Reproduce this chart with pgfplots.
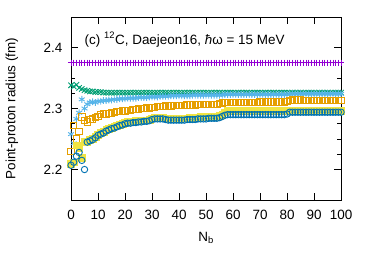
\documentclass[border=0pt]{standalone}
\usepackage{fontspec}
\setmainfont{Liberation Sans}
\usepackage{pgfplots}
\usepackage{pgfplotstable}
\pgfplotsset{compat=1.18}
\definecolor{gpurple}{HTML}{9400D3}
\definecolor{ggreen}{HTML}{009E73}
\definecolor{gsky}{HTML}{56B4E9}
\definecolor{gorange}{HTML}{E69F00}
\definecolor{gyellow}{HTML}{F0E442}
\definecolor{gblue}{HTML}{0072B2}
\pgfplotstableread{
N a b c d e f
0 2.375 2.338 2.258 2.230 2.210 2.207
1 2.375 2.336 2.243 2.272 2.212 2.212
2 2.375 2.339 2.283 2.250 2.240 2.222
3 2.375 2.334 2.293 2.262 2.236 2.228
4 2.375 2.332 2.315 2.286 2.220 2.215
5 2.375 2.330 2.300 2.280 2.245 2.200
6 2.375 2.329 2.307 2.278 2.246 2.245
7 2.375 2.328 2.310 2.282 2.249 2.247
8 2.375 2.328 2.311 2.283 2.250 2.249
9 2.375 2.327 2.310 2.285 2.254 2.252
10 2.375 2.327 2.312 2.287 2.257 2.256
11 2.375 2.327 2.312 2.290 2.260 2.258
12 2.375 2.326 2.313 2.291 2.262 2.260
13 2.375 2.326 2.313 2.291 2.265 2.263
14 2.375 2.326 2.314 2.292 2.267 2.265
15 2.375 2.326 2.314 2.293 2.269 2.267
16 2.375 2.326 2.315 2.294 2.271 2.268
17 2.375 2.326 2.315 2.295 2.272 2.270
18 2.375 2.326 2.316 2.295 2.274 2.272
19 2.375 2.326 2.316 2.296 2.275 2.273
20 2.375 2.326 2.316 2.296 2.277 2.275
21 2.375 2.326 2.317 2.297 2.278 2.276
22 2.375 2.326 2.317 2.297 2.279 2.276
23 2.375 2.326 2.317 2.298 2.279 2.277
24 2.375 2.326 2.317 2.298 2.280 2.277
25 2.375 2.326 2.318 2.299 2.280 2.278
26 2.375 2.326 2.318 2.300 2.281 2.278
27 2.375 2.326 2.318 2.300 2.281 2.279
28 2.375 2.326 2.318 2.301 2.281 2.279
29 2.375 2.326 2.319 2.301 2.282 2.280
30 2.375 2.326 2.319 2.302 2.284 2.282
31 2.375 2.326 2.319 2.302 2.285 2.283
32 2.375 2.326 2.319 2.303 2.285 2.283
33 2.375 2.326 2.320 2.303 2.285 2.283
34 2.375 2.326 2.320 2.303 2.285 2.283
35 2.375 2.326 2.320 2.304 2.284 2.282
36 2.375 2.326 2.320 2.304 2.283 2.281
37 2.375 2.326 2.321 2.304 2.283 2.281
38 2.375 2.326 2.321 2.305 2.283 2.281
39 2.375 2.326 2.321 2.305 2.283 2.281
40 2.375 2.326 2.321 2.305 2.284 2.281
41 2.375 2.326 2.321 2.305 2.284 2.281
42 2.375 2.326 2.321 2.305 2.284 2.281
43 2.375 2.326 2.321 2.306 2.284 2.282
44 2.375 2.326 2.321 2.306 2.285 2.282
45 2.375 2.326 2.322 2.306 2.285 2.282
46 2.375 2.326 2.322 2.306 2.285 2.282
47 2.375 2.326 2.322 2.307 2.285 2.283
48 2.375 2.326 2.322 2.307 2.286 2.283
49 2.375 2.326 2.322 2.307 2.286 2.283
50 2.375 2.326 2.322 2.307 2.286 2.283
51 2.375 2.326 2.322 2.307 2.287 2.284
52 2.375 2.326 2.322 2.307 2.287 2.284
53 2.375 2.326 2.322 2.307 2.287 2.284
54 2.375 2.326 2.322 2.307 2.287 2.284
55 2.375 2.326 2.322 2.308 2.288 2.285
56 2.375 2.326 2.322 2.309 2.290 2.287
57 2.375 2.326 2.323 2.310 2.294 2.289
58 2.375 2.326 2.323 2.310 2.296 2.290
59 2.375 2.326 2.323 2.310 2.296 2.290
60 2.375 2.326 2.323 2.310 2.296 2.290
61 2.375 2.326 2.323 2.310 2.296 2.290
62 2.375 2.326 2.323 2.310 2.296 2.290
63 2.375 2.326 2.323 2.310 2.296 2.290
64 2.375 2.326 2.323 2.310 2.296 2.290
65 2.375 2.326 2.323 2.310 2.296 2.290
66 2.375 2.326 2.323 2.310 2.296 2.290
67 2.375 2.326 2.323 2.310 2.296 2.290
68 2.375 2.326 2.323 2.310 2.296 2.290
69 2.375 2.326 2.323 2.310 2.296 2.290
70 2.375 2.326 2.323 2.311 2.296 2.290
71 2.375 2.326 2.323 2.311 2.296 2.290
72 2.375 2.326 2.323 2.311 2.296 2.290
73 2.375 2.326 2.323 2.311 2.296 2.290
74 2.375 2.326 2.323 2.311 2.296 2.290
75 2.375 2.326 2.323 2.311 2.296 2.290
76 2.375 2.326 2.323 2.311 2.296 2.290
77 2.375 2.326 2.323 2.311 2.296 2.290
78 2.375 2.326 2.323 2.311 2.296 2.290
79 2.375 2.326 2.323 2.311 2.296 2.290
80 2.375 2.326 2.323 2.312 2.296 2.291
81 2.375 2.326 2.324 2.313 2.297 2.294
82 2.375 2.326 2.324 2.314 2.297 2.294
83 2.375 2.326 2.324 2.314 2.297 2.294
84 2.375 2.326 2.324 2.314 2.297 2.294
85 2.375 2.326 2.324 2.314 2.297 2.294
86 2.375 2.326 2.324 2.313 2.297 2.294
87 2.375 2.326 2.324 2.313 2.297 2.294
88 2.375 2.326 2.324 2.313 2.297 2.294
89 2.375 2.326 2.324 2.313 2.297 2.294
90 2.375 2.326 2.324 2.313 2.297 2.294
91 2.375 2.326 2.324 2.313 2.297 2.294
92 2.375 2.326 2.324 2.313 2.297 2.294
93 2.375 2.326 2.324 2.313 2.297 2.294
94 2.375 2.326 2.324 2.313 2.297 2.294
95 2.375 2.326 2.324 2.313 2.297 2.294
96 2.375 2.326 2.324 2.313 2.297 2.294
97 2.375 2.326 2.324 2.313 2.297 2.294
98 2.375 2.326 2.324 2.313 2.297 2.294
99 2.375 2.326 2.324 2.313 2.297 2.294
100 2.375 2.326 2.324 2.313 2.297 2.294
}\datatable
\begin{document}
\fontsize{13.5}{16}\selectfont
\begin{tikzpicture}
\begin{axis}[
  scale only axis,
  width=270bp, height=183bp,
  xmin=0, xmax=100, ymin=2.15, ymax=2.45,
  xtick={0,10,...,100},
  ytick={2.2,2.3,2.4},
  minor y tick num=3,
  tick align=inside,
  major tick length=7bp, minor tick length=4bp,
  axis line style={line width=1bp},
  every tick/.style={black, line width=0.8bp},
  /pgf/number format/assume math mode=true,
  /pgf/number format/fixed,
  /pgf/number format/precision=1,
  /pgf/number format/fixed zerofill,
  yticklabel style={font=\fontsize{13.5}{16}\selectfont, xshift=-4bp},
  xticklabel style={font=\fontsize{13.5}{16}\selectfont, yshift=-5bp, /pgf/number format/precision=0, /pgf/number format/fixed zerofill=false},
  xlabel={N\textsubscript{b}},
  ylabel={Point-proton radius (fm)},
  xlabel style={at={(rel axis cs:0.5,-0.224)}, anchor=base},
  ylabel style={at={(rel axis cs:-0.219,0.5)}, anchor=center},
  clip mode=individual,
]
\addplot[only marks, gpurple, mark=+, mark size=3.2bp, line width=0.9bp] table[x=N,y=a]{\datatable};
\addplot[only marks, ggreen, mark=x, mark size=3.8bp, line width=0.9bp] table[x=N,y=b]{\datatable};
\addplot[only marks, gsky, mark=asterisk, mark size=3.4bp, line width=0.9bp] table[x=N,y=c]{\datatable};
\addplot[only marks, gorange, mark=square, mark size=3.2bp, line width=0.9bp] table[x=N,y=d]{\datatable};
\addplot[only marks, gyellow, mark=square*, mark size=3.4bp, mark options={fill=gyellow, draw=gyellow}] table[x=N,y=e]{\datatable};
\addplot[only marks, gblue, mark=o, mark size=3.2bp, line width=0.9bp] table[x=N,y=f]{\datatable};
\node[anchor=west, inner sep=0pt] at (axis cs:5,2.413) {(c) \textsuperscript{12}C, Daejeon16, \textit{ħ}ω = 15 MeV};
\coordinate (bbsw) at (rel axis cs:-0.263,-0.339);
\coordinate (bbne) at (rel axis cs:1.122,1.093);
\end{axis}
\path[use as bounding box] (bbsw) rectangle (bbne);
\end{tikzpicture}
\end{document}
